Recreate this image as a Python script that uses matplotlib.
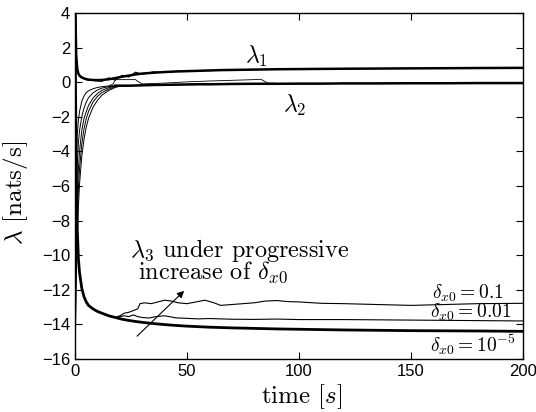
import numpy as np
import matplotlib
matplotlib.use("Agg")
from matplotlib import pyplot as plt

plt.rcParams['mathtext.fontset'] = 'cm'
plt.rcParams['font.family'] = ['Liberation Sans', 'DejaVu Sans']

# common time grid [s]
t = [0, 0.2, 0.5, 1, 1.5, 2, 3, 4, 5, 6, 8, 10, 12, 15, 18, 21, 24, 27, 30, 35,
     40, 45, 50, 55, 60, 65, 70, 80, 90, 100, 110, 120, 135, 150, 165, 180, 200]

# lambda_1, nominal and a noisy run
lam1 = [4.0, 3.8, 1.6, 0.75, 0.5, 0.38, 0.28, 0.22, 0.18, 0.15, 0.13, 0.12, 0.13, 0.17, 0.24,
        0.32, 0.38, 0.45, 0.5, 0.55, 0.59, 0.62, 0.64, 0.66, 0.68, 0.7, 0.71, 0.73, 0.75, 0.76,
        0.77, 0.78, 0.79, 0.8, 0.81, 0.82, 0.83]
lam1_b = [4.0, 3.6, 1.4, 0.7, 0.46, 0.35, 0.25, 0.2, 0.15, 0.12, 0.1, 0.07, 0.05, 0.25, 0.12,
          0.4, 0.3, 0.58, 0.46, 0.6, 0.56, 0.63, 0.62, 0.67, 0.67, 0.7, 0.7, 0.73, 0.74, 0.76,
          0.77, 0.78, 0.79, 0.8, 0.81, 0.82, 0.83]

# lambda_2 runs rising from the bottom at different speeds
lam2_tail = [-0.2, -0.2, -0.19, -0.18, -0.16, -0.15, -0.14, -0.13, -0.12, -0.12, -0.11, -0.1,
             -0.09, -0.09, -0.08, -0.08, -0.07, -0.07, -0.06, -0.06, -0.05, -0.05]
lam2_runs = [
    [-16, -9, -5, -3, -2.2, -1.7, -1.1, -0.8, -0.6, -0.5, -0.38, -0.3, -0.26, -0.22, -0.2],
    [-16, -12, -7.5, -4.8, -3.5, -2.8, -2.0, -1.5, -1.15, -0.9, -0.62, -0.45, -0.34, -0.26, -0.21],
    [-16, -13, -9.5, -6.5, -5.0, -4.0, -2.8, -2.1, -1.7, -1.35, -0.92, -0.65, -0.47, -0.32, -0.23],
    [-16, -14, -10.5, -8, -6.2, -5.0, -3.6, -2.7, -2.1, -1.7, -1.15, -0.82, -0.6, -0.4, -0.26],
    [-16, -14.5, -11.5, -9, -7.2, -5.9, -4.3, -3.3, -2.6, -2.1, -1.45, -1.05, -0.75, -0.48, -0.3],
]
# run that drifts above lambda_2 for a while
t2_bump = [15, 17, 18, 27, 28, 30, 40, 50, 60, 70, 80, 83, 86, 90]
lam2_bump = [-0.22, -0.1, 0.15, 0.15, 0.05, -0.1, -0.05, 0.02, 0.07, 0.11, 0.15, 0.17, -0.05, -0.06]

# lambda_3 for delta_x0 = 1e-5 (nominal)
lam3 = [4.0, 0.0, -5.0, -8.5, -10.2, -11.0, -11.9, -12.4, -12.7, -12.9, -13.1, -13.25, -13.35,
        -13.5, -13.6, -13.7, -13.77, -13.83, -13.88, -13.95, -14.01, -14.06, -14.1, -14.13,
        -14.16, -14.18, -14.2, -14.23, -14.26, -14.28, -14.3, -14.32, -14.34, -14.36, -14.37,
        -14.38, -14.4]
# delta_x0 = 0.01
t3_b = [18, 20, 22, 24, 26, 28, 30, 33, 36, 40, 45, 50, 55, 60, 70, 80, 90, 100, 120, 140,
        160, 180, 200]
lam3_b = [-13.6, -13.55, -13.5, -13.55, -13.45, -13.55, -13.6, -13.63, -13.55, -13.5, -13.62,
          -13.65, -13.68, -13.66, -13.7, -13.71, -13.69, -13.72, -13.72, -13.74, -13.76, -13.78,
          -13.8]
# delta_x0 = 0.1
t3_c = [18, 20, 22, 24, 26, 28, 29, 31, 34, 37, 40, 43, 46, 50, 54, 58, 62, 65, 70, 75, 80,
        85, 90, 95, 100, 110, 120, 135, 150, 165, 180, 200]
lam3_c = [-13.6, -13.5, -13.35, -13.3, -13.2, -13.1, -12.8, -12.75, -12.8, -12.7, -12.6, -12.65,
          -12.75, -12.8, -12.7, -12.6, -12.75, -12.9, -12.85, -12.8, -12.75, -12.65, -12.62,
          -12.68, -12.7, -12.78, -12.8, -12.85, -12.9, -12.85, -12.8, -12.78]

xticks = [0, 50, 100, 150, 200]
yticks = [4, 2, 0, -2, -4, -6, -8, -10, -12, -14, -16]

fig = plt.figure(figsize=(5.36, 4.12), dpi=100)
ax = fig.add_axes([0.14, 0.1286, 0.8357, 0.8398])

for run in lam2_runs:
    ax.plot(t, run + lam2_tail, color='k', lw=0.7)
ax.plot(t2_bump, lam2_bump, color='k', lw=0.6)
ax.plot(t, lam1_b, color='k', lw=0.8)
ax.plot(t, lam1, color='k', lw=1.8)
ax.plot(t[14:], lam2_runs[0][14:] + lam2_tail, color='k', lw=1.8)
ax.plot(t3_b, lam3_b, color='k', lw=0.8)
ax.plot(t3_c, lam3_c, color='k', lw=0.8)
ax.plot(t, lam3, color='k', lw=2.0)

ax.set_xlim(0, 200)
ax.set_ylim(-16, 4)
ax.set_xticks(xticks)
ax.set_yticks(yticks)
ax.tick_params(direction='in', top=True, right=True, length=5, labelsize=12)
for s in ax.spines.values():
    s.set_linewidth(1.0)

serif = dict(family='cmr10', color='k')
ax.text(75.9, 1.11, r'$\lambda_1$', fontsize=17, **serif)
ax.text(92.9, -1.72, r'$\lambda_2$', fontsize=17, **serif)
ax.text(24.6, -10.09, r'$\lambda_3$ under progressive', fontsize=17.5, **serif)
ax.text(28.1, -11.35, r'increase of $\delta_{x0}$', fontsize=17.5, **serif)
ax.text(159.2, -12.53, r'$\delta_{x0}=0.1$', fontsize=14, **serif)
ax.text(158.5, -13.61, r'$\delta_{x0}=0.01$', fontsize=14, **serif)
ax.text(158.5, -15.58, r'$\delta_{x0}=10^{-5}$', fontsize=14, **serif)
ax.annotate('', xy=(49.6, -11.95), xytext=(26.8, -14.79),
            arrowprops=dict(arrowstyle='-|>', color='k', lw=0.8, mutation_scale=10))

ax.set_xlabel(r'time $[s]$', fontsize=18, **serif)
ax.set_ylabel(r'$\lambda$ [nats/s]', fontsize=18, **serif)
ax.xaxis.set_label_coords(0.507, -0.068)
ax.yaxis.set_label_coords(-0.10, 0.48)

fig.savefig('out.png', dpi=100)
